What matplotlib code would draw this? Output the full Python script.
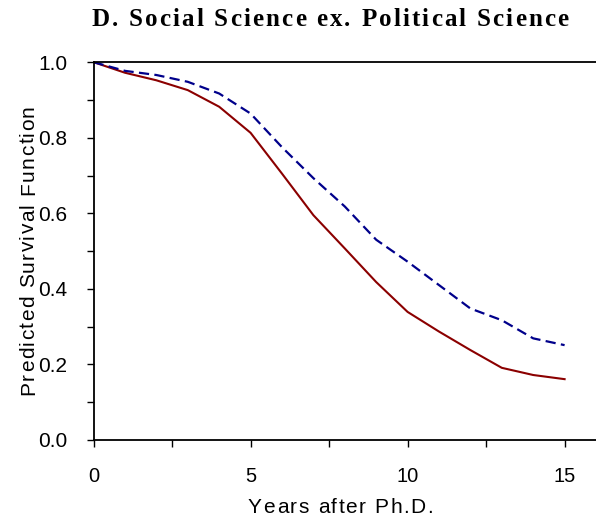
import numpy as np
import matplotlib.pyplot as plt
from matplotlib.ticker import MultipleLocator
from matplotlib.font_manager import FontProperties, findfont, get_font

years = np.arange(0, 16)
solid_curve = [1.0, 0.972, 0.952, 0.926, 0.882, 0.813, 0.705, 0.595, 0.507,
               0.418, 0.339, 0.287, 0.238, 0.191, 0.172, 0.161]
dashed_curve = [1.0, 0.977, 0.966, 0.948, 0.917, 0.864, 0.775, 0.693, 0.618,
                0.530, 0.472, 0.410, 0.348, 0.317, 0.269, 0.251]

title = "D. Social Science ex. Political Science"
xlabel = "Years after Ph.D."
ylabel = "Predicted Survival Function"

W, H = 596, 518
fig = plt.figure(figsize=(W / 100, H / 100), dpi=100)
ax = fig.add_axes([0.157, 0.1506, 0.843, 0.7294])


def advances(text, family, size, weight="normal"):
    prop = FontProperties(family=family, size=size, weight=weight)
    font = get_font(findfont(prop))
    font.set_size(size, 100)
    return [font.load_char(ord(c)).linearHoriAdvance / 65536 for c in text]


def spaced_text(text, x, y, width, family, size, weight="normal", vertical=False):
    # letter-spaced text centred on (x, y) in pixels, stretched to `width`
    adv = advances(text, family, size, weight)
    gap = (width - sum(adv)) / (len(text) - 1)
    pos = (y if vertical else x) - width / 2
    for ch, a in zip(text, adv):
        if vertical:
            px, py, rot = x, pos, 90
        else:
            px, py, rot = pos, y, 0
        fig.text(px / W, py / H, ch, rotation=rot, rotation_mode="anchor",
                 ha="left", va="baseline", fontsize=size, family=family,
                 fontweight=weight)
        pos += a + gap


ax.plot(years, solid_curve, color="#8b0000", lw=1.5)
ax.plot(years, dashed_curve, color="#00008b", lw=1.6, dashes=(4.6, 2.4))

ax.set_xlim(0, 16)
ax.set_ylim(0, 1.0)
ax.xaxis.set_major_locator(MultipleLocator(5))
ax.xaxis.set_minor_locator(MultipleLocator(2.5))
ax.yaxis.set_major_locator(MultipleLocator(0.2))
ax.yaxis.set_minor_locator(MultipleLocator(0.1))
ax.yaxis.set_major_formatter(plt.FormatStrFormatter("%.1f"))

ax.spines["right"].set_visible(False)
for s in ["left", "bottom", "top"]:
    ax.spines[s].set_linewidth(1.3)

ax.tick_params(which="both", direction="out", length=5, width=1, colors="black")
ax.tick_params(axis="x", which="major", labelsize=14.5, pad=14.5)
ax.tick_params(axis="y", which="major", labelsize=15, pad=14)
for lbl in ax.get_xticklabels() + ax.get_yticklabels():
    lbl.set_family("Liberation Sans")

spaced_text(title, 330, H - 26, 477, "Liberation Serif", 18, weight="bold")
spaced_text(xlabel, 340.5, H - 513, 185, "Liberation Sans", 15)
spaced_text(ylabel, 34, H - 250, 290, "Liberation Sans", 15, vertical=True)

fig.savefig("out.png", dpi=100)
